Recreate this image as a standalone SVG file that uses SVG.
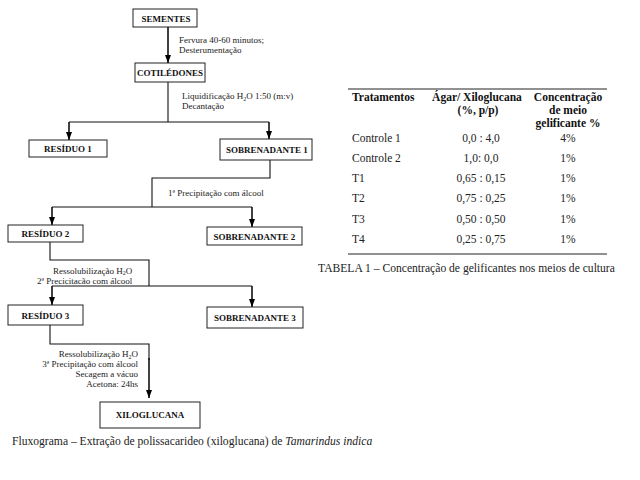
<svg xmlns="http://www.w3.org/2000/svg" width="640" height="480" viewBox="0 0 640 480" font-family="'Liberation Serif', 'DejaVu Serif', serif">
<defs>
<marker id="ah" markerWidth="8" markerHeight="6" refX="8" refY="3" orient="auto" markerUnits="userSpaceOnUse" viewBox="0 0 8 6">
<path d="M0,0 L8,3 L0,6 Z" fill="#000"/>
</marker>
<style>
.box{fill:#fff;stroke:#222;stroke-width:1}
.bl{font-family:'Liberation Serif','DejaVu Serif',serif;font-weight:bold;font-size:9px;fill:#111;text-anchor:middle}
.note{font-family:'Liberation Serif','DejaVu Serif',serif;font-size:9px;fill:#222}
.cn{fill:none;stroke:#111;stroke-width:1.1}
.ar{fill:none;stroke:#111;stroke-width:1.6}
.th{font-family:'Liberation Serif','DejaVu Serif',serif;font-weight:bold;font-size:11.5px;fill:#111}
.td{font-family:'Liberation Serif','DejaVu Serif',serif;font-size:11.5px;fill:#222}
.cap{font-family:'Liberation Serif','DejaVu Serif',serif;font-size:11.6px;fill:#222}
</style>
</defs>
<rect width="640" height="480" fill="#fff"/>

<g id="connectors">
<path class="ar" d="M168,27 V63" marker-end="url(#ah)"/>
<path class="cn" d="M168,82 V122 M69,122 H269"/>
<path class="ar" d="M69,122 V140" marker-end="url(#ah)"/>
<path class="ar" d="M269,122 V139" marker-end="url(#ah)"/>
<path class="cn" d="M270,160 V178 H152 V207 M52,207 H252"/>
<path class="ar" d="M52,207 V225" marker-end="url(#ah)"/>
<path class="ar" d="M252,207 V227" marker-end="url(#ah)"/>
<path class="cn" d="M50,242 V260 H149 V286 M52,286 H252"/>
<path class="ar" d="M52,286 V305" marker-end="url(#ah)"/>
<path class="ar" d="M252,286 V307" marker-end="url(#ah)"/>
<path class="cn" d="M50,325 V344 H149 V360"/>
<path class="ar" d="M149,358 V398" marker-end="url(#ah)"/>
</g>

<g id="labels">
<text class="note" x="179" y="43">Fervura 40-60 minutos;</text>
<text class="note" x="179" y="53">Desterumentação</text>
<text class="note" x="182" y="99">Liquidificação H<tspan font-size="6" dy="1.5">2</tspan><tspan dy="-1.5">O 1:50 (m:v)</tspan></text>
<text class="note" x="182" y="109">Decantação</text>
<text class="note" x="168" y="196">1ª Precipitação com álcool</text>
<text class="note" x="53" y="273.5">Ressolubilização H<tspan font-size="6" dy="1.5">2</tspan><tspan dy="-1.5">O</tspan></text>
<text class="note" x="37" y="284">2ª Precicitacão com álcool</text>
<g text-anchor="end">
<text class="note" x="138" y="357">Ressolubilização H<tspan font-size="6" dy="1.5">2</tspan><tspan dy="-1.5">O</tspan></text>
<text class="note" x="138" y="367">3ª Precipitação com álcool</text>
<text class="note" x="138" y="377">Secagem a vácuo</text>
<text class="note" x="138" y="387">Acetona: 24hs</text>
</g>
</g>

<g id="sementes"><rect class="box" x="133" y="9" width="64" height="18"/><text class="bl" x="166" y="21.5">SEMENTES</text></g>
<g id="cotiledones"><rect class="box" x="135" y="63" width="70" height="19"/><text class="bl" x="170" y="76">COTILÉDONES</text></g>
<g id="residuo1"><rect class="box" x="29" y="140" width="78" height="17"/><text class="bl" x="68" y="152">RESÍDUO 1</text></g>
<g id="sobrenadante1"><rect class="box" x="220" y="139" width="92" height="21"/><text class="bl" x="267" y="153">SOBRENADANTE 1</text></g>
<g id="residuo2"><rect class="box" x="8" y="225" width="75" height="17"/><text class="bl" x="45.5" y="237">RESÍDUO 2</text></g>
<g id="sobrenadante2"><rect class="box" x="207" y="227" width="95" height="18"/><text class="bl" x="254.5" y="240">SOBRENADANTE 2</text></g>
<g id="residuo3"><rect class="box" x="8" y="305" width="75" height="20"/><text class="bl" x="45.5" y="318.5">RESÍDUO 3</text></g>
<g id="sobrenadante3"><rect class="box" x="207" y="307" width="96" height="21"/><text class="bl" x="255" y="321">SOBRENADANTE 3</text></g>
<g id="xiloglucana"><rect class="box" x="100" y="402" width="100" height="26"/><text class="bl" x="150" y="418">XILOGLUCANA</text></g>

<text class="cap" x="12" y="445">Fluxograma – Extração de polissacarideo (xiloglucana) de <tspan font-style="italic">Tamarindus indica</tspan></text>

<g id="tabela">
<line x1="348" y1="89" x2="607" y2="89" stroke="#222" stroke-width="1"/>
<text class="th" x="352" y="101">Tratamentos</text>
<g text-anchor="middle">
<text class="th" x="477" y="101">Ágar/ Xiloglucana</text>
<text class="th" x="478" y="114">(%, p/p)</text>
<text class="th" x="568" y="101">Concentração</text>
<text class="th" x="568" y="114">de meio</text>
<text class="th" x="568" y="127">gelificante %</text>
<text class="td" x="481" y="142">0,0 : 4,0</text>
<text class="td" x="481" y="162">1,0: 0,0</text>
<text class="td" x="481" y="182">0,65 : 0,15</text>
<text class="td" x="481" y="202">0,75 : 0,25</text>
<text class="td" x="481" y="223">0,50 : 0,50</text>
<text class="td" x="481" y="243">0,25 : 0,75</text>
<text class="td" x="568" y="142">4%</text>
<text class="td" x="568" y="162">1%</text>
<text class="td" x="568" y="182">1%</text>
<text class="td" x="568" y="202">1%</text>
<text class="td" x="568" y="223">1%</text>
<text class="td" x="568" y="243">1%</text>
</g>
<text class="td" x="352" y="142">Controle 1</text>
<text class="td" x="352" y="162">Controle 2</text>
<text class="td" x="352" y="182">T1</text>
<text class="td" x="352" y="202">T2</text>
<text class="td" x="352" y="223">T3</text>
<text class="td" x="352" y="243">T4</text>
<line x1="348" y1="254" x2="607" y2="254" stroke="#222" stroke-width="1"/>
<text class="cap" x="318" y="272" font-size="12">TABELA 1 – Concentração de gelificantes nos meios de cultura</text>
</g>
</svg>
